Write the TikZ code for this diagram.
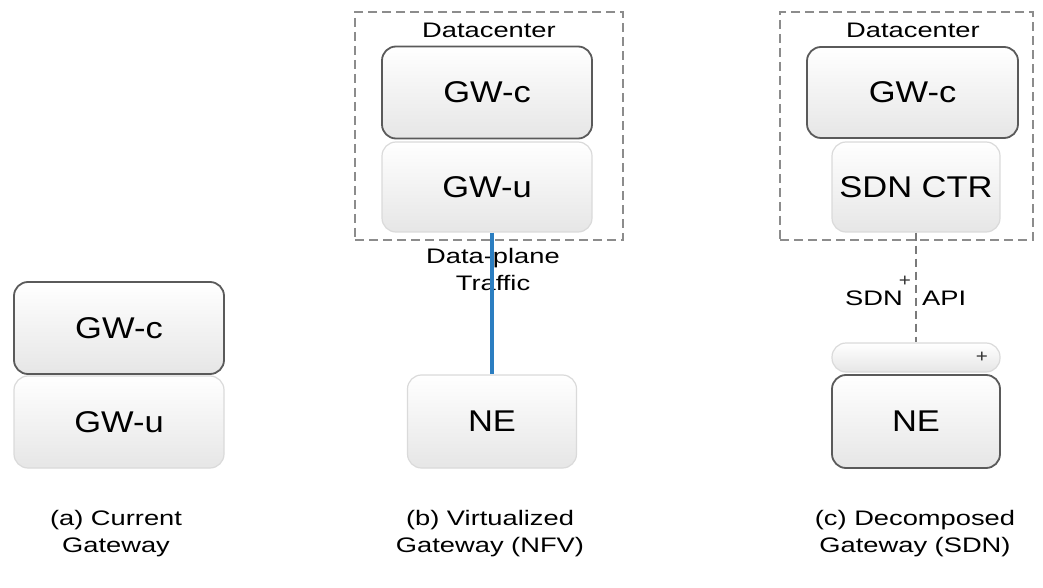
\documentclass[tikz,border=0pt]{standalone}
\usepackage{fontspec}
\setmainfont{Liberation Sans}
\newfontfamily\boxfont[FakeStretch=1.15]{Liberation Sans}
\newfontfamily\labfont[FakeStretch=1.3]{Liberation Sans}
\definecolor{edgedark}{HTML}{5A5A5A}
\definecolor{edgelight}{HTML}{DADADA}
\definecolor{boxbot}{HTML}{E6E6E6}
\definecolor{dcgray}{HTML}{8C8C8C}
\definecolor{apigray}{HTML}{7A7A7A}
\definecolor{trafficblue}{HTML}{2B7EC1}
\tikzset{
  gwbox/.style={rectangle, rounded corners=14pt, top color=white, bottom color=boxbot,
    draw=edgelight, line width=1.2pt, inner sep=0pt,
    minimum width=210pt, minimum height=92pt, font=\boxfont\fontsize{30}{34}\selectfont},
  ctl/.style={draw=edgedark, line width=1.8pt},
  dcbox/.style={draw=dcgray, line width=1.8pt, dash pattern=on 9pt off 5pt,
    inner sep=0pt, minimum height=228pt},
  lab/.style={font=\labfont\fontsize{21}{27}\selectfont, align=center, anchor=base, inner sep=0pt},
  plus/.style={font=\boxfont\fontsize{18}{18}\selectfont, inner sep=0pt, text=black!80},
}
\begin{document}
\begin{tikzpicture}[x=1pt,y=1pt]
\useasboundingbox (0,0) rectangle (1043,587);

% (a) current gateway
\node[gwbox, ctl] (GWcA) at (119,259) {GW-c};
\node[gwbox] (GWuA) at (119,165) {GW-u};
\node[lab] (capA) at (116,35) {(a) Current\\Gateway};

% (b) virtualized gateway
\node[dcbox, minimum width=268pt] (dcB) at (489,461) {};
\node[lab] (dcBlab) at (489,549) {Datacenter};
\node[gwbox, ctl] (GWcB) at (487,494.5) {GW-c};
\node[gwbox, minimum height=90pt] (GWuB) at (487,400) {GW-u};
\node[gwbox, minimum width=169pt, minimum height=93pt] (NEB) at (492,165.5) {NE};
\node[lab] (trafB) at (493,297) {Data-plane\\Traffic};
\draw[trafficblue, line width=4pt] (NEB.north |- GWuB.south) -- (NEB.north);
\node[lab] (capB) at (490,35) {(b) Virtualized\\Gateway (NFV)};

% (c) decomposed gateway
\node[dcbox, minimum width=253pt] (dcC) at (906.5,461) {};
\node[lab] (dcClab) at (913,549) {Datacenter};
\node[gwbox, ctl, minimum width=211pt, minimum height=91pt] (GWcC) at (912.5,494.5) {GW-c};
\node[gwbox, minimum width=168pt, minimum height=90pt] (ctrC) at (916,400) {SDN CTR};
\node[gwbox, minimum width=168pt, minimum height=29pt] (portC) at (916,229.5) {};
\node[plus] (portplus) at (982,230) {+};
\node[gwbox, ctl, minimum width=168pt, minimum height=93pt] (NEC) at (916,165.5) {NE};
\draw[apigray, line width=1.5pt, dash pattern=on 8pt off 5pt] (ctrC.south) -- (portC.north);
\node[lab, anchor=base east] (sdnlab) at (903,282) {SDN};
\node[plus] (sdnplus) at (905,306) {+};
\node[lab, anchor=base west] (apilab) at (922,282) {API};
\node[lab] (capC) at (915,35) {(c) Decomposed\\Gateway (SDN)};
\end{tikzpicture}
\end{document}
